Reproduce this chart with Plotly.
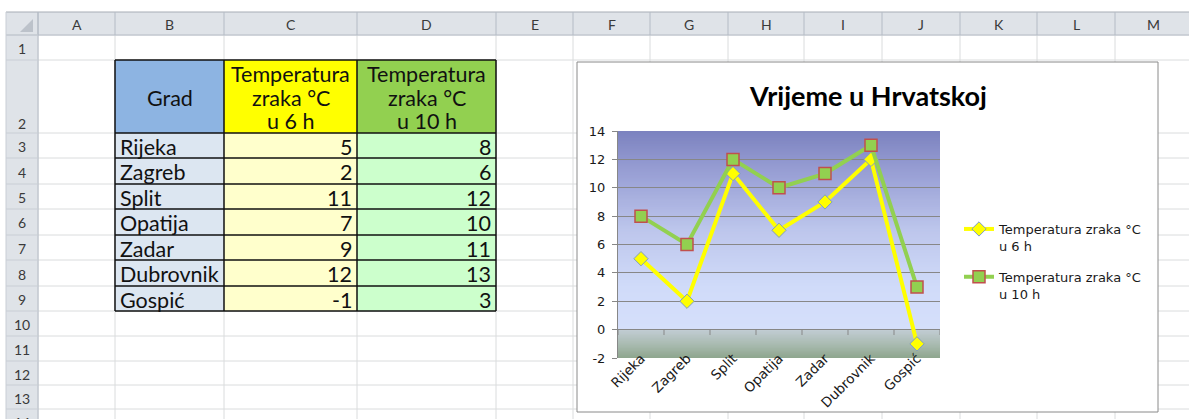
import plotly.graph_objects as go

# ---------------- data ----------------
cities = ["Rijeka", "Zagreb", "Split", "Opatija", "Zadar", "Dubrovnik", "Gospić"]
temp_6h = [5, 2, 11, 7, 9, 12, -1]
temp_10h = [8, 6, 12, 10, 11, 13, 3]
header_city = "Grad"
header_6h = ["Temperatura", "zraka °C", "u 6 h"]
header_10h = ["Temperatura", "zraka °C", "u 10 h"]
series_names = ["Temperatura zraka °C<br>u 6 h", "Temperatura zraka °C<br>u 10 h"]
chart_title = "Vrijeme u Hrvatskoj"
col_letters = ["A", "B", "C", "D", "E", "F", "G", "H", "I", "J", "K", "L", "M"]
row_numbers = list(range(1, 15))
y_ticks = [-2, 0, 2, 4, 6, 8, 10, 12, 14]

# ---------------- geometry (pixels) ----------------
W, H = 1189, 419
def px(x): return x / W
def py(y): return 1 - y / H

col_edges = [38, 115, 224, 357, 496, 573, 650, 728, 804, 882, 960, 1037, 1115, 1192]
row_edges = [35, 60, 133, 158, 184, 209, 235, 260, 286, 311, 336, 361, 385, 409, 434]
HDR_TOP = 12
HDR_LEFT = 6
SS_FONT = "Lato"
HDR_FILL = "#DFE3E8"
HDR_LINE = "#B4BBC5"
GRID = "#DADCDD"

shapes = []
annotations = []

def rect(x0, y0, x1, y1, fill, line=None, lw=0, layer="below"):
    shapes.append(dict(type="rect", xref="paper", yref="paper",
                       x0=px(x0), x1=px(x1), y0=py(y1), y1=py(y0),
                       fillcolor=fill, line=dict(color=line or fill, width=lw), layer=layer))

def hline(x0, x1, y, color, w=1, layer="below"):
    shapes.append(dict(type="line", xref="paper", yref="paper",
                       x0=px(x0), x1=px(x1), y0=py(y), y1=py(y),
                       line=dict(color=color, width=w), layer=layer))

def vline(x, y0, y1, color, w=1, layer="below"):
    shapes.append(dict(type="line", xref="paper", yref="paper",
                       x0=px(x), x1=px(x), y0=py(y0), y1=py(y1),
                       line=dict(color=color, width=w), layer=layer))

def text(x, y, s, size=14, color="#333", xa="center", ya="middle", fam=SS_FONT, align="center"):
    annotations.append(dict(xref="paper", yref="paper", x=px(x), y=py(y), text=s,
                            showarrow=False, xanchor=xa, yanchor=ya, align=align,
                            font=dict(family=fam, size=size, color=color)))

# worksheet grid
for x in col_edges:
    vline(x, row_edges[0], H + 20, GRID)
for y in row_edges:
    hline(col_edges[0], W, y, GRID)

# headers
rect(HDR_LEFT, HDR_TOP, W + 5, row_edges[0], HDR_FILL)
rect(HDR_LEFT, HDR_TOP, col_edges[0], H + 20, HDR_FILL)
hline(HDR_LEFT, W, HDR_TOP, "#A7ADB5")
hline(HDR_LEFT, W, row_edges[0], HDR_LINE)
vline(col_edges[0], HDR_TOP, H + 20, HDR_LINE)
vline(HDR_LEFT, HDR_TOP, H + 20, "#C9CED5")
for x in col_edges:
    vline(x, HDR_TOP, row_edges[0], HDR_LINE)
for y in row_edges:
    hline(HDR_LEFT, col_edges[0], y, "#C9CED5")
# corner triangle
shapes.append(dict(type="path", xref="paper", yref="paper", layer="below",
                   path=f"M {px(20)} {py(32)} L {px(33)} {py(32)} L {px(33)} {py(19)} Z",
                   fillcolor="#BCC2CA", line=dict(width=0)))

for i, c in enumerate(col_letters):
    text((col_edges[i] + col_edges[i + 1]) / 2, (HDR_TOP + row_edges[0]) / 2 + 1, c, size=14, color="#3A3A3A")
for i, r in enumerate(row_numbers):
    y0, y1 = ([HDR_TOP] + row_edges)[i + 1], row_edges[i + 1]
    yc = (y0 + y1) / 2 + 1
    if r == 2:
        yc = y1 - 9
    text(22, yc, str(r), size=14, color="#3A3A3A")

# table
bx = col_edges[1:5]  # B, C, D boundaries
hy0, hy1 = row_edges[1], row_edges[2]
rect(bx[0], hy0, bx[1], hy1, "#8DB4E2")
rect(bx[1], hy0, bx[2], hy1, "#FFFF00")
rect(bx[2], hy0, bx[3], hy1, "#92D050")
n = len(cities)
ty1 = row_edges[2 + n]
rect(bx[0], hy1, bx[1], ty1, "#DCE6F1")
rect(bx[1], hy1, bx[2], ty1, "#FFFFCC")
rect(bx[2], hy1, bx[3], ty1, "#CCFFCC")
for x in bx:
    vline(x, hy0, ty1, "#111111", 1.5)
for y in row_edges[1:3 + n]:
    hline(bx[0], bx[3], y, "#111111", 1.5)

TS = 21.5
text((bx[0] + bx[1]) / 2, (hy0 + hy1) / 2 + 2, header_city, size=TS, color="#111")
line_gap = 23.5
for j, (a, b) in enumerate(zip(header_6h, header_10h)):
    yl = hy0 + 14 + j * line_gap
    text((bx[1] + bx[2]) / 2, yl, a, size=TS, color="#111")
    text((bx[2] + bx[3]) / 2, yl, b, size=TS, color="#111")
for i in range(n):
    yc = (row_edges[2 + i] + row_edges[3 + i]) / 2 + 1
    text(bx[0] + 3, yc, cities[i], size=TS, color="#111", xa="left")
    text(bx[2] - 3, yc, str(temp_6h[i]), size=TS, color="#111", xa="right")
    text(bx[3] - 3, yc, str(temp_10h[i]), size=TS, color="#111", xa="right")

# chart area
CH_L, CH_T, CH_R, CH_B = 577, 62, 1158, 412
rect(CH_L, CH_T, CH_R, CH_B, "white", "#8A8A8A", 1)

PL, PT, PR, PB = 618, 131, 940, 358
y_min, y_max = y_ticks[0], y_ticks[-1]

# plot-area gradient fill (strips in data coordinates)
stops_hi = [(14, (0x7C, 0x82, 0xBF)), (11, (0x99, 0xA0, 0xD5)), (7, (0xBD, 0xC6, 0xEC)),
            (3, (0xD0, 0xDB, 0xF9)), (0, (0xD5, 0xDF, 0xFB))]
stops_lo = [(0, (0xC2, 0xCD, 0xD4)), (-1, (0xAA, 0xBB, 0xB2)), (-2, (0x8E, 0xA6, 0x8D))]

def interp(stops, v):
    for (a, ca), (b, cb) in zip(stops, stops[1:]):
        if b <= v <= a:
            t = (a - v) / (a - b)
            return "rgb(%d,%d,%d)" % tuple(round(ca[k] + (cb[k] - ca[k]) * t) for k in range(3))
    return "rgb(%d,%d,%d)" % stops[-1][1]

step = 0.1
v = y_max
while v > y_min + 1e-9:
    v1 = round(v - step, 4)
    mid = (v + v1) / 2
    if mid > 0:
        col, lo = interp(stops_hi, mid), max(v1 - 0.06, 0)
    else:
        col, lo = interp(stops_lo, mid), max(v1 - 0.06, y_min)
    shapes.append(dict(type="rect", xref="paper", yref="y", x0=px(PL), x1=px(PR),
                       y0=lo, y1=v, fillcolor=col, line=dict(width=0), layer="below"))
    v = v1

# category boundary tick marks on the zero line
for i in range(len(cities) + 1):
    shapes.append(dict(type="line", xref="x", yref="y", x0=i - 0.5, x1=i - 0.5, y0=0, y1=-0.38,
                       line=dict(color="#878787", width=1), layer="above"))

fig = go.Figure()
fig.add_trace(go.Scatter(
    x=cities, y=temp_6h, name=series_names[0], mode="lines+markers", legendgroup="a",
    line=dict(color="#FFFF00", width=4),
    marker=dict(symbol="diamond", size=11, color="#FFFF00", line=dict(color="#7F9DC0", width=1))))
fig.add_trace(go.Scatter(
    x=cities, y=temp_10h, name=series_names[1], mode="lines+markers", legendgroup="b",
    line=dict(color="#92D050", width=4),
    marker=dict(symbol="square", size=12, color="#92D050", line=dict(color="#C0504D", width=1.5))))

fig.update_layout(
    width=W, height=H, margin=dict(l=0, r=0, t=0, b=0, pad=0),
    paper_bgcolor="white", plot_bgcolor="rgba(0,0,0,0)",
    shapes=shapes, annotations=annotations,
    showlegend=True,
    legend=dict(x=px(959), y=py(214), xanchor="left", yanchor="top", valign="top",
                tracegroupgap=11, bgcolor="rgba(0,0,0,0)",
                font=dict(family="DejaVu Sans", size=13, color="#1a1a1a")),
    xaxis=dict(domain=[px(PL), px(PR)], type="category", categoryarray=cities,
               range=[-0.5, len(cities) - 0.5], showgrid=False, showline=False, zeroline=False,
               ticks="", tickangle=-45, ticklabelstandoff=-11, automargin=False,
               tickfont=dict(family="DejaVu Sans", size=13.5, color="#1a1a1a")),
    yaxis=dict(domain=[py(PB), py(PT)], range=[y_min, y_max],
               tickvals=y_ticks, ticktext=[str(t) for t in y_ticks],
               showgrid=True, gridcolor="#878787", gridwidth=1, automargin=False,
               zeroline=True, zerolinecolor="#878787", zerolinewidth=1,
               showline=True, linecolor="#878787", linewidth=1,
               ticks="outside", ticklen=5, tickcolor="#878787", ticklabelstandoff=4,
               tickfont=dict(family="DejaVu Sans", size=13, color="#1a1a1a")),
)
fig.add_annotation(xref="paper", yref="paper", x=px(868), y=py(96), text="<b>" + chart_title + "</b>",
                   showarrow=False, xanchor="center", yanchor="middle",
                   font=dict(family="Lato", size=27, color="#000"))

fig.write_html("out.html", config={"displayModeBar": False},
               post_script="document.body.style.margin='0';document.body.style.padding='0';"
                           "document.body.style.overflow='hidden';"
                           "document.documentElement.style.overflow='hidden';")
